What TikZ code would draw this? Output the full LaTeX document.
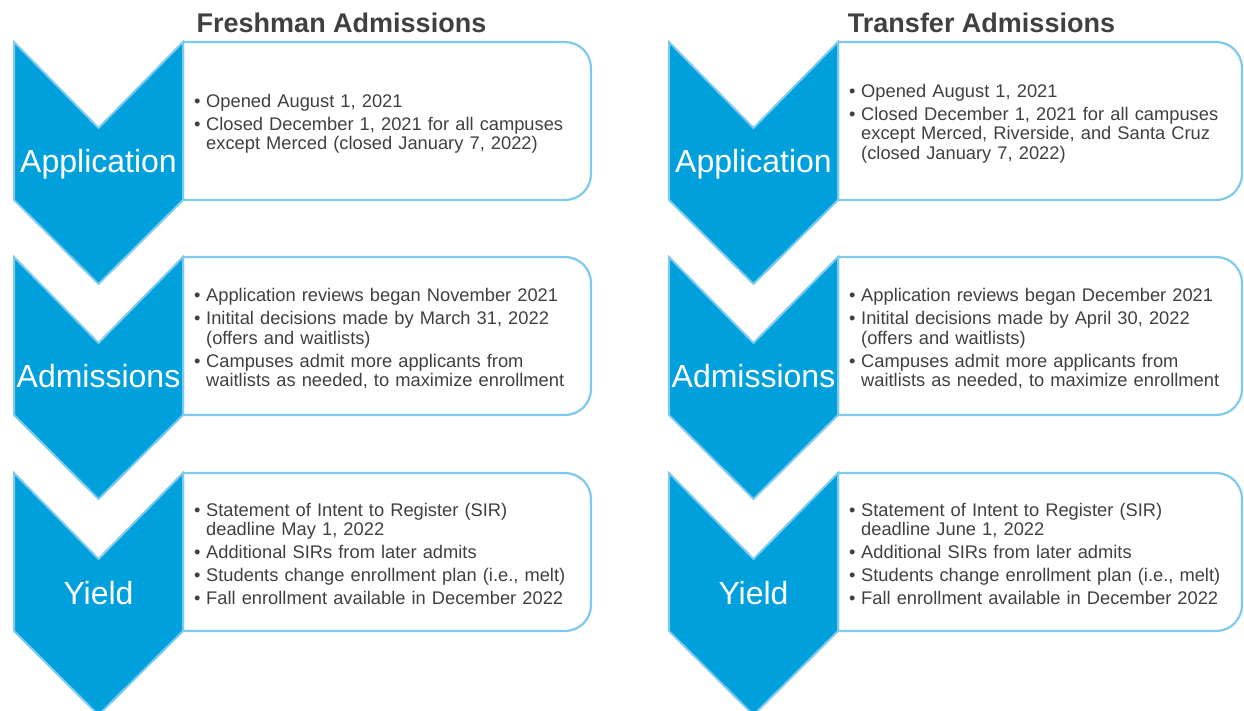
\documentclass[tikz,border=0pt]{standalone}
\usepackage{fontspec}
\setmainfont{Liberation Sans}
\definecolor{chevblue}{RGB}{0,160,220}
\definecolor{edgeblue}{RGB}{125,202,238}
\definecolor{txtgray}{RGB}{64,64,64}
\newcommand{\bitem}[1]{\par\hangindent=12pt\hangafter=1\noindent\makebox[12pt][l]{\textbullet}#1\par}
\newcommand{\rbox}[4]{% L, T, R, B
  \draw[boxstyle] (#1,#2) -- ({#3-26},#2) .. controls ({#3-11.6},#2) and (#3,{#2+11.6}) .. (#3,{#2+26})
    -- (#3,{#4-26}) .. controls (#3,{#4-11.6}) and ({#3-11.6},#4) .. ({#3-26},#4) -- (#1,#4) -- cycle;}
\newcommand{\chev}[2]{% L, T
  \draw[chevstyle] (#1,#2) -- ({#1+84.5},{#2+86}) -- ({#1+169},#2) -- ({#1+169},{#2+158})
    -- ({#1+84.5},{#2+242}) -- (#1,{#2+158}) -- cycle;}
\tikzset{
  boxstyle/.style={draw=edgeblue, line width=2.2pt, fill=white},
  chevstyle/.style={draw=edgeblue, line width=2pt, fill=chevblue},
  lbl/.style={text=white, font=\fontsize{32}{36}\selectfont, inner sep=0pt},
  ttl/.style={text=txtgray, font=\bfseries\fontsize{27}{30}\selectfont, inner sep=0pt},
  txt/.style={text=txtgray, font=\fontsize{18.3}{19.4}\selectfont, inner sep=0pt,
    text width=400pt, align=left, anchor=west},
}
\begin{document}
\begin{tikzpicture}[x=1pt,y=-1pt]
\useasboundingbox (0,0) rectangle (1244,711);
% titles
\node[ttl, anchor=base] (ftitle) at (341.5,33) {Freshman Admissions};
\node[ttl, anchor=base] (ttitle) at (981.5,33) {Transfer Admissions};
% Freshman column
\rbox{183}{42}{591}{200}
\chev{14}{42}
\rbox{183}{257}{591}{415}
\chev{14}{257}
\rbox{183}{473}{591}{631}
\chev{14}{473}
\node[lbl, anchor=base] (fapp) at (98.5,173) {Application};
\node[lbl, anchor=base] (fadm) at (98.5,387) {Admissions};
\node[lbl, anchor=base] (fyld) at (98.5,604) {Yield};
\node[txt] (fappt) at (194,119) {\setlength{\parskip}{3.5pt}%
  \bitem{Opened August 1, 2021}%
  \bitem{Closed December 1, 2021 for all campuses\newline except Merced (closed January 7, 2022)}};
\node[txt] (fadmt) at (194,334) {\setlength{\parskip}{3.5pt}%
  \bitem{Application reviews began November 2021}%
  \bitem{Initital decisions made by March 31, 2022\newline (offers and waitlists)}%
  \bitem{Campuses admit more applicants from\newline waitlists as needed, to maximize enrollment}};
\node[txt] (fyldt) at (194,549) {\setlength{\parskip}{3.5pt}%
  \bitem{Statement of Intent to Register (SIR)\newline deadline May 1, 2022}%
  \bitem{Additional SIRs from later admits}%
  \bitem{Students change enrollment plan (i.e., melt)}%
  \bitem{Fall enrollment available in December 2022}};
% Transfer column
\rbox{838}{42}{1242}{200}
\chev{669}{42}
\rbox{838}{257}{1242}{415}
\chev{669}{257}
\rbox{838}{473}{1242}{631}
\chev{669}{473}
\node[lbl, anchor=base] (tapp) at (753.5,173) {Application};
\node[lbl, anchor=base] (tadm) at (753.5,387) {Admissions};
\node[lbl, anchor=base] (tyld) at (753.5,604) {Yield};
\node[txt] (tappt) at (849,119) {\setlength{\parskip}{3.5pt}%
  \bitem{Opened August 1, 2021}%
  \bitem{Closed December 1, 2021 for all campuses\newline except Merced, Riverside, and Santa Cruz\newline (closed January 7, 2022)}};
\node[txt] (tadmt) at (849,334) {\setlength{\parskip}{3.5pt}%
  \bitem{Application reviews began December 2021}%
  \bitem{Initital decisions made by April 30, 2022\newline (offers and waitlists)}%
  \bitem{Campuses admit more applicants from\newline waitlists as needed, to maximize enrollment}};
\node[txt] (tyldt) at (849,549) {\setlength{\parskip}{3.5pt}%
  \bitem{Statement of Intent to Register (SIR)\newline deadline June 1, 2022}%
  \bitem{Additional SIRs from later admits}%
  \bitem{Students change enrollment plan (i.e., melt)}%
  \bitem{Fall enrollment available in December 2022}};
\end{tikzpicture}
\end{document}
